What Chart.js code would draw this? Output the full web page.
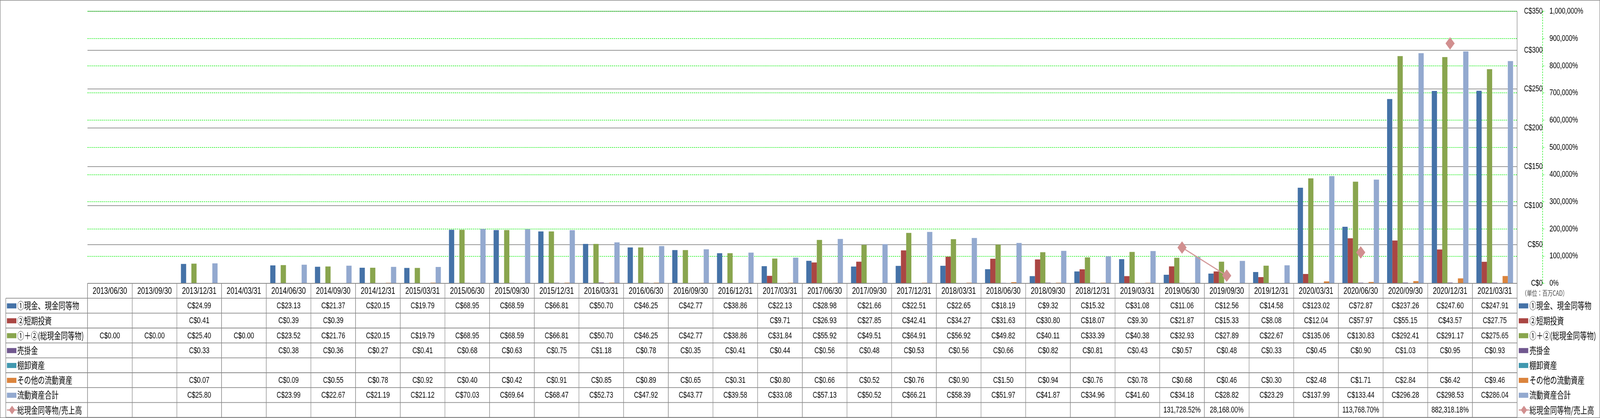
<!DOCTYPE html>
<html>
<head>
<meta charset="utf-8">
<script src="https://cdn.jsdelivr.net/npm/chart.js@4.4.1/dist/chart.umd.min.js"></script>
<style>
  html, body { margin: 0; padding: 0; background: #fff; overflow: hidden; }
  canvas { display: block; }
</style>
</head>
<body>
<canvas id="chart" width="5576" height="1071" style="width:100vw;height:100vh"></canvas>
<script>
// Periods (quarter ends)
const periods = [
  '2013/06/30', '2013/09/30', '2013/12/31', '2014/03/31', '2014/06/30', '2014/09/30', '2014/12/31', '2015/03/31',
  '2015/06/30', '2015/09/30', '2015/12/31', '2016/03/31', '2016/06/30', '2016/09/30', '2016/12/31', '2017/03/31',
  '2017/06/30', '2017/09/30', '2017/12/31', '2018/03/31', '2018/06/30', '2018/09/30', '2018/12/31', '2019/03/31',
  '2019/06/30', '2019/09/30', '2019/12/31', '2020/03/31', '2020/06/30', '2020/09/30', '2020/12/31', '2021/03/31'
];

// Values in million CAD
const cash = [null, null, 24.99, null, 23.13, 21.37, 20.15, 19.79, 68.95, 68.59, 66.81, 50.70, 46.25, 42.77, 38.86, 22.13,
  28.98, 21.66, 22.51, 22.65, 18.19, 9.32, 15.32, 31.08, 11.06, 12.56, 14.58, 123.02, 72.87, 237.26, 247.60, 247.91];
const shortInvest = [null, null, 0.41, null, 0.39, 0.39, null, null, null, null, null, null, null, null, null, 9.71,
  26.93, 27.85, 42.41, 34.27, 31.63, 30.80, 18.07, 9.30, 21.87, 15.33, 8.08, 12.04, 57.97, 55.15, 43.57, 27.75];
const totalCash = [0.00, 0.00, 25.40, 0.00, 23.52, 21.76, 20.15, 19.79, 68.95, 68.59, 66.81, 50.70, 46.25, 42.77, 38.86, 31.84,
  55.92, 49.51, 64.91, 56.92, 49.82, 40.11, 33.39, 40.38, 32.93, 27.89, 22.67, 135.06, 130.83, 292.41, 291.17, 275.65];
const receivables = [null, null, 0.33, null, 0.38, 0.36, 0.27, 0.41, 0.68, 0.63, 0.75, 1.18, 0.78, 0.35, 0.41, 0.44,
  0.56, 0.48, 0.53, 0.56, 0.66, 0.82, 0.81, 0.43, 0.57, 0.48, 0.33, 0.45, 0.90, 1.03, 0.95, 0.93];
const inventory = periods.map(() => null);
const otherCurrent = [null, null, 0.07, null, 0.09, 0.55, 0.78, 0.92, 0.40, 0.42, 0.91, 0.85, 0.89, 0.65, 0.31, 0.80,
  0.66, 0.52, 0.76, 0.90, 1.50, 0.94, 0.76, 0.78, 0.68, 0.46, 0.30, 2.48, 1.71, 2.84, 6.42, 9.46];
const currentAssets = [null, null, 25.80, null, 23.99, 22.67, 21.19, 21.12, 70.03, 69.64, 68.47, 52.73, 47.92, 43.77, 39.58, 33.08,
  57.13, 50.52, 66.21, 58.39, 51.97, 41.87, 34.96, 41.60, 34.18, 28.82, 23.29, 137.99, 133.44, 296.28, 298.53, 286.04];
// Total cash / revenue (%)
const cashToSales = [null, null, null, null, null, null, null, null, null, null, null, null, null, null, null, null,
  null, null, null, null, null, null, null, null, 131728.52, 28168.00, null, null, 113768.70, null, 882318.18, null];

const numFont = '"Liberation Sans", "Noto Sans CJK JP", sans-serif';
const jpFont = '"Noto Sans CJK JP", sans-serif';
const gridGray = '#888888';
const green = '#00ee00';

function barSet(label, data, color) {
  return {
    type: 'bar', label: label, data: data, backgroundColor: color,
    yAxisID: 'y', barPercentage: 1, categoryPercentage: 0.82, order: 1
  };
}

const datasets = [
  barSet('①現金、現金同等物', cash, '#4572A7'),
  barSet('②短期投資', shortInvest, '#AA4643'),
  barSet('①＋②(総現金同等物)', totalCash, '#89A54E'),
  barSet('売掛金', receivables, '#71588F'),
  barSet('棚卸資産', inventory, '#4198AF'),
  barSet('その他の流動資産', otherCurrent, '#DB843D'),
  barSet('流動資産合計', currentAssets, '#93A9CF'),
  {
    type: 'line', label: '総現金同等物/売上高', data: cashToSales, yAxisID: 'y1', order: 0,
    borderColor: '#D39898', borderWidth: 3, spanGaps: false,
    pointStyle: 'rectRot', pointRadius: 16, pointHoverRadius: 16,
    pointBackgroundColor: '#D18F8F', pointBorderWidth: 0
  }
];

function fmtCell(ds, v) {
  if (v === null || v === undefined) return '';
  if (ds.type === 'line') {
    return v.toLocaleString('en-US', { minimumFractionDigits: 2, maximumFractionDigits: 2 }) + '%';
  }
  return 'C$' + v.toFixed(2);
}

function drawKey(ctx, ds, x, y) {
  if (ds.type === 'line') {
    ctx.strokeStyle = ds.borderColor;
    ctx.lineWidth = 3;
    ctx.beginPath();
    ctx.moveTo(x, y);
    ctx.lineTo(x + 36, y);
    ctx.stroke();
    ctx.fillStyle = ds.pointBackgroundColor;
    ctx.beginPath();
    ctx.moveTo(x + 18, y - 11);
    ctx.lineTo(x + 29, y);
    ctx.lineTo(x + 18, y + 11);
    ctx.lineTo(x + 7, y);
    ctx.closePath();
    ctx.fill();
  } else {
    ctx.fillStyle = ds.backgroundColor;
    ctx.fillRect(x, y - 6, 33, 13);
  }
}

// Data table under the plot, lined up on the category scale
const tablePlugin = {
  id: 'dataTable',
  afterDraw(chart) {
    const ctx = chart.ctx;
    const area = chart.chartArea;
    const xs = chart.scales.x;
    const sets = chart.data.datasets;
    const n = periods.length;
    const colW = (area.right - area.left) / n;
    const top = area.bottom;
    const bottom = chart.height - 1.5;
    const rows = sets.length + 1;
    const rowH = (bottom - top) / rows;
    const tableLeft = 20;

    ctx.save();
    ctx.strokeStyle = gridGray;
    ctx.lineWidth = 1.8;
    for (let r = 0; r <= rows; r++) {
      const y = top + r * rowH;
      ctx.beginPath();
      ctx.moveTo(r === 0 ? area.left : tableLeft, y);
      ctx.lineTo(area.right, y);
      ctx.stroke();
    }
    for (let i = 0; i <= n; i++) {
      const x = area.left + i * colW;
      ctx.beginPath();
      ctx.moveTo(x, top);
      ctx.lineTo(x, bottom);
      ctx.stroke();
    }
    ctx.beginPath();
    ctx.moveTo(tableLeft, top + rowH);
    ctx.lineTo(tableLeft, bottom);
    ctx.stroke();

    // plot right border
    ctx.beginPath();
    ctx.moveTo(area.right, area.top);
    ctx.lineTo(area.right, area.bottom);
    ctx.stroke();

    // header dates
    ctx.fillStyle = '#000';
    ctx.textAlign = 'center';
    ctx.textBaseline = 'middle';
    ctx.font = '24px ' + numFont;
    periods.forEach((p, i) => {
      ctx.fillText(p, xs.getPixelForValue(i), top + rowH / 2 + 1);
    });

    // value rows
    ctx.font = '22px ' + numFont;
    sets.forEach((ds, r) => {
      const cy = top + (r + 1.5) * rowH + 1;
      ds.data.forEach((v, i) => {
        const t = fmtCell(ds, v);
        if (t) ctx.fillText(t, xs.getPixelForValue(i), cy);
      });
    });

    // legends: left column and right column
    ctx.textAlign = 'left';
    ctx.font = '24px ' + jpFont;
    sets.forEach((ds, r) => {
      const cy = top + (r + 1.5) * rowH;
      drawKey(ctx, ds, 24, cy);
      ctx.fillStyle = '#000';
      ctx.fillText(ds.label, 60, cy);
      drawKey(ctx, ds, area.right + 6, cy);
      ctx.fillStyle = '#000';
      ctx.fillText(ds.label, area.right + 43, cy);
    });

    ctx.font = '18px ' + jpFont;
    ctx.fillStyle = '#444';
    ctx.fillText('（単位：百万CAD）', area.right + 16, top + rowH / 2 + 6);

    // dashed secondary axis line
    const y1 = chart.scales.y1;
    ctx.strokeStyle = green;
    ctx.lineWidth = 1.5;
    ctx.setLineDash([4, 3]);
    ctx.beginPath();
    ctx.moveTo(y1.left, area.top);
    ctx.lineTo(y1.left, area.bottom);
    ctx.stroke();
    ctx.setLineDash([]);

    // outer frame
    ctx.strokeStyle = gridGray;
    ctx.lineWidth = 1.5;
    ctx.strokeRect(0.75, 0.75, chart.width - 1.5, chart.height - 1.5);
    ctx.restore();
  }
};

new Chart(document.getElementById('chart'), {
  type: 'bar',
  data: { labels: periods, datasets: datasets },
  plugins: [tablePlugin],
  options: {
    responsive: false,
    animation: false,
    devicePixelRatio: 1,
    layout: { padding: { left: 305, right: 0, top: 15, bottom: 345 } },
    plugins: { legend: { display: false }, tooltip: { enabled: false } },
    scales: {
      x: { display: false },
      y: {
        position: 'right', weight: 0, min: 0, max: 350,
        afterFit(scale) { scale.width = 89; },
        border: { display: false },
        grid: { color: gridGray, lineWidth: 1.8, drawTicks: false },
        ticks: {
          stepSize: 50, padding: 0, crossAlign: 'far', color: '#000',
          font: { size: 22, family: numFont },
          callback: (v) => 'C$' + v
        }
      },
      y1: {
        position: 'right', weight: 1, min: 0, max: 1000000,
        afterFit(scale) { scale.width = 200; },
        border: { display: false, dash: [4, 3] },
        grid: { color: green, lineWidth: 1.5, drawTicks: true, tickLength: 8, tickBorderDash: [4, 3] },
        ticks: {
          stepSize: 100000, padding: 16, color: '#000',
          font: { size: 22, family: numFont },
          callback: (v) => v.toLocaleString('en-US') + '%'
        }
      }
    }
  }
});
</script>
</body>
</html>
